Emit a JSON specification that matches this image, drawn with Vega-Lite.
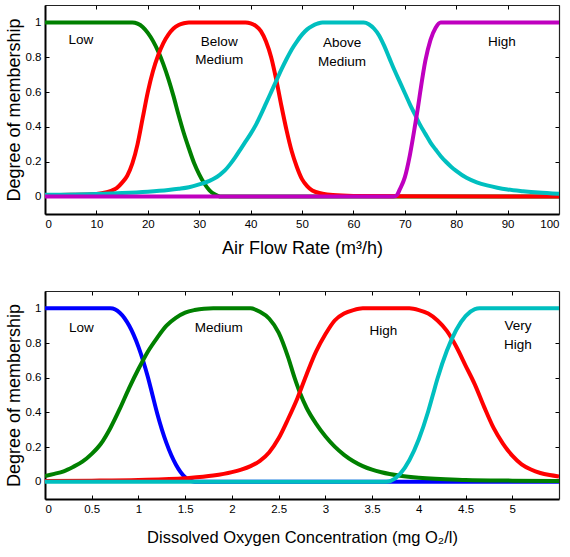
{
  "$schema": "https://vega.github.io/schema/vega-lite/v6.json",
  "padding": {"left": 5, "top": 4, "right": 8, "bottom": 5},
  "background": "white",
  "config": {
    "font": "Liberation Sans",
    "view": {"stroke": null},
    "axis": {
      "grid": false,
      "labelFont": "Liberation Sans",
      "titleFont": "Liberation Sans",
      "labelFontSize": 11.5,
      "labelColor": "#000",
      "titleColor": "#000",
      "titleFontWeight": "normal",
      "tickColor": "#000",
      "domainColor": "#000",
      "tickSize": -4,
      "labelPadding": 8
    }
  },
  "spacing": 77,
  "bounds": "flush",
  "resolve": {"scale": {"color": "independent"}},
  "datasets": {
    "air": [
      {"x": 0, "y": 1, "s": "Low"}, {"x": 17, "y": 1, "s": "Low"}, {"x": 18, "y": 0.993, "s": "Low"}, {"x": 19, "y": 0.974, "s": "Low"}, {"x": 20, "y": 0.94, "s": "Low"}, {"x": 21, "y": 0.894, "s": "Low"}, {"x": 22, "y": 0.835, "s": "Low"}, {"x": 23, "y": 0.762, "s": "Low"}, {"x": 24, "y": 0.676, "s": "Low"}, {"x": 25, "y": 0.577, "s": "Low"}, {"x": 26, "y": 0.467, "s": "Low"}, {"x": 27, "y": 0.365, "s": "Low"}, {"x": 28, "y": 0.276, "s": "Low"}, {"x": 29, "y": 0.193, "s": "Low"}, {"x": 30, "y": 0.128, "s": "Low"}, {"x": 31, "y": 0.075, "s": "Low"}, {"x": 32, "y": 0.036, "s": "Low"}, {"x": 33, "y": 0.013, "s": "Low"}, {"x": 34, "y": 0.001, "s": "Low"}, {"x": 34.4, "y": 0, "s": "Low"}, {"x": 100, "y": 0, "s": "Low"},

      {"x": 0, "y": 0.008, "s": "Below Medium"}, {"x": 5, "y": 0.01, "s": "Below Medium"}, {"x": 10, "y": 0.015, "s": "Below Medium"}, {"x": 12, "y": 0.025, "s": "Below Medium"}, {"x": 13, "y": 0.035, "s": "Below Medium"}, {"x": 14, "y": 0.05, "s": "Below Medium"}, {"x": 15, "y": 0.08, "s": "Below Medium"}, {"x": 16, "y": 0.12, "s": "Below Medium"}, {"x": 17, "y": 0.19, "s": "Below Medium"}, {"x": 18, "y": 0.3, "s": "Below Medium"}, {"x": 19, "y": 0.45, "s": "Below Medium"}, {"x": 20, "y": 0.6, "s": "Below Medium"}, {"x": 21, "y": 0.72, "s": "Below Medium"}, {"x": 22, "y": 0.81, "s": "Below Medium"}, {"x": 23, "y": 0.88, "s": "Below Medium"}, {"x": 24, "y": 0.93, "s": "Below Medium"}, {"x": 25, "y": 0.965, "s": "Below Medium"}, {"x": 26, "y": 0.985, "s": "Below Medium"}, {"x": 27, "y": 0.995, "s": "Below Medium"}, {"x": 28, "y": 1, "s": "Below Medium"}, {"x": 39, "y": 1, "s": "Below Medium"}, {"x": 40, "y": 0.995, "s": "Below Medium"}, {"x": 41, "y": 0.98, "s": "Below Medium"}, {"x": 42, "y": 0.95, "s": "Below Medium"}, {"x": 43, "y": 0.89, "s": "Below Medium"}, {"x": 44, "y": 0.8, "s": "Below Medium"}, {"x": 45, "y": 0.67, "s": "Below Medium"}, {"x": 46, "y": 0.52, "s": "Below Medium"}, {"x": 47, "y": 0.38, "s": "Below Medium"}, {"x": 48, "y": 0.26, "s": "Below Medium"}, {"x": 49, "y": 0.17, "s": "Below Medium"}, {"x": 50, "y": 0.1, "s": "Below Medium"}, {"x": 51, "y": 0.06, "s": "Below Medium"}, {"x": 52, "y": 0.035, "s": "Below Medium"}, {"x": 54, "y": 0.017, "s": "Below Medium"}, {"x": 56, "y": 0.009, "s": "Below Medium"}, {"x": 60, "y": 0.004, "s": "Below Medium"}, {"x": 70, "y": 0.002, "s": "Below Medium"}, {"x": 100, "y": 0, "s": "Below Medium"},

      {"x": 0, "y": 0.01, "s": "Above Medium"}, {"x": 10, "y": 0.015, "s": "Above Medium"}, {"x": 15, "y": 0.02, "s": "Above Medium"}, {"x": 20, "y": 0.028, "s": "Above Medium"}, {"x": 24, "y": 0.038, "s": "Above Medium"}, {"x": 26, "y": 0.045, "s": "Above Medium"}, {"x": 28, "y": 0.054, "s": "Above Medium"}, {"x": 30, "y": 0.07, "s": "Above Medium"}, {"x": 32, "y": 0.09, "s": "Above Medium"}, {"x": 33, "y": 0.105, "s": "Above Medium"}, {"x": 34, "y": 0.125, "s": "Above Medium"}, {"x": 35, "y": 0.15, "s": "Above Medium"}, {"x": 36, "y": 0.185, "s": "Above Medium"}, {"x": 37, "y": 0.225, "s": "Above Medium"}, {"x": 38, "y": 0.27, "s": "Above Medium"}, {"x": 39, "y": 0.315, "s": "Above Medium"}, {"x": 40, "y": 0.36, "s": "Above Medium"}, {"x": 41, "y": 0.41, "s": "Above Medium"}, {"x": 42, "y": 0.47, "s": "Above Medium"}, {"x": 43, "y": 0.535, "s": "Above Medium"}, {"x": 44, "y": 0.6, "s": "Above Medium"}, {"x": 45, "y": 0.665, "s": "Above Medium"}, {"x": 46, "y": 0.73, "s": "Above Medium"}, {"x": 47, "y": 0.79, "s": "Above Medium"}, {"x": 48, "y": 0.845, "s": "Above Medium"}, {"x": 49, "y": 0.89, "s": "Above Medium"}, {"x": 50, "y": 0.93, "s": "Above Medium"}, {"x": 51, "y": 0.96, "s": "Above Medium"}, {"x": 52, "y": 0.98, "s": "Above Medium"}, {"x": 53, "y": 0.993, "s": "Above Medium"}, {"x": 54, "y": 1, "s": "Above Medium"}, {"x": 62, "y": 1, "s": "Above Medium"}, {"x": 63, "y": 0.99, "s": "Above Medium"}, {"x": 64, "y": 0.965, "s": "Above Medium"}, {"x": 65, "y": 0.925, "s": "Above Medium"}, {"x": 66, "y": 0.865, "s": "Above Medium"}, {"x": 67, "y": 0.795, "s": "Above Medium"}, {"x": 68, "y": 0.725, "s": "Above Medium"}, {"x": 69, "y": 0.66, "s": "Above Medium"}, {"x": 70, "y": 0.595, "s": "Above Medium"}, {"x": 71, "y": 0.53, "s": "Above Medium"}, {"x": 72, "y": 0.47, "s": "Above Medium"}, {"x": 73, "y": 0.41, "s": "Above Medium"}, {"x": 74, "y": 0.36, "s": "Above Medium"}, {"x": 75, "y": 0.31, "s": "Above Medium"}, {"x": 76, "y": 0.27, "s": "Above Medium"}, {"x": 77, "y": 0.232, "s": "Above Medium"}, {"x": 78, "y": 0.2, "s": "Above Medium"}, {"x": 79, "y": 0.172, "s": "Above Medium"}, {"x": 80, "y": 0.148, "s": "Above Medium"}, {"x": 82, "y": 0.108, "s": "Above Medium"}, {"x": 84, "y": 0.082, "s": "Above Medium"}, {"x": 86, "y": 0.064, "s": "Above Medium"}, {"x": 88, "y": 0.051, "s": "Above Medium"}, {"x": 90, "y": 0.041, "s": "Above Medium"}, {"x": 93, "y": 0.031, "s": "Above Medium"}, {"x": 96, "y": 0.023, "s": "Above Medium"}, {"x": 100, "y": 0.016, "s": "Above Medium"},

      {"x": 0, "y": 0, "s": "High"}, {"x": 67.8, "y": 0, "s": "High"}, {"x": 68.5, "y": 0.01, "s": "High"}, {"x": 69, "y": 0.04, "s": "High"}, {"x": 70, "y": 0.11, "s": "High"}, {"x": 71, "y": 0.24, "s": "High"}, {"x": 72, "y": 0.41, "s": "High"}, {"x": 72.5, "y": 0.5, "s": "High"}, {"x": 73, "y": 0.6, "s": "High"}, {"x": 74, "y": 0.78, "s": "High"}, {"x": 75, "y": 0.9, "s": "High"}, {"x": 76, "y": 0.97, "s": "High"}, {"x": 77, "y": 1, "s": "High"}, {"x": 100, "y": 1, "s": "High"}
    ],
    "airLabels": [
      {"x": 7, "y": 0.9, "label": "Low"},
      {"x": 33.9, "y": 0.885, "label": "Below"},
      {"x": 33.9, "y": 0.785, "label": "Medium"},
      {"x": 57.8, "y": 0.88, "label": "Above"},
      {"x": 57.8, "y": 0.775, "label": "Medium"},
      {"x": 88.9, "y": 0.885, "label": "High"}
    ],
    "oxy": [
      {"x": 0, "y": 1, "s": "Low"}, {"x": 0.7, "y": 1, "s": "Low"}, {"x": 0.8, "y": 0.975, "s": "Low"}, {"x": 0.9, "y": 0.901, "s": "Low"}, {"x": 1.0, "y": 0.778, "s": "Low"}, {"x": 1.1, "y": 0.605, "s": "Low"}, {"x": 1.15, "y": 0.5, "s": "Low"}, {"x": 1.2, "y": 0.395, "s": "Low"}, {"x": 1.3, "y": 0.222, "s": "Low"}, {"x": 1.4, "y": 0.099, "s": "Low"}, {"x": 1.5, "y": 0.025, "s": "Low"}, {"x": 1.6, "y": 0, "s": "Low"}, {"x": 5.5, "y": 0, "s": "Low"},

      {"x": 0, "y": 0.033, "s": "Medium"}, {"x": 0.1, "y": 0.045, "s": "Medium"}, {"x": 0.2, "y": 0.06, "s": "Medium"}, {"x": 0.3, "y": 0.085, "s": "Medium"}, {"x": 0.4, "y": 0.115, "s": "Medium"}, {"x": 0.5, "y": 0.16, "s": "Medium"}, {"x": 0.6, "y": 0.22, "s": "Medium"}, {"x": 0.7, "y": 0.31, "s": "Medium"}, {"x": 0.8, "y": 0.42, "s": "Medium"}, {"x": 0.9, "y": 0.54, "s": "Medium"}, {"x": 1.0, "y": 0.65, "s": "Medium"}, {"x": 1.1, "y": 0.75, "s": "Medium"}, {"x": 1.2, "y": 0.83, "s": "Medium"}, {"x": 1.3, "y": 0.9, "s": "Medium"}, {"x": 1.4, "y": 0.945, "s": "Medium"}, {"x": 1.5, "y": 0.975, "s": "Medium"}, {"x": 1.6, "y": 0.99, "s": "Medium"}, {"x": 1.7, "y": 0.998, "s": "Medium"}, {"x": 1.8, "y": 1, "s": "Medium"}, {"x": 2.2, "y": 1, "s": "Medium"}, {"x": 2.3, "y": 0.98, "s": "Medium"}, {"x": 2.4, "y": 0.94, "s": "Medium"}, {"x": 2.5, "y": 0.86, "s": "Medium"}, {"x": 2.6, "y": 0.72, "s": "Medium"}, {"x": 2.67, "y": 0.6, "s": "Medium"}, {"x": 2.73, "y": 0.51, "s": "Medium"}, {"x": 2.8, "y": 0.425, "s": "Medium"}, {"x": 2.9, "y": 0.335, "s": "Medium"}, {"x": 3.0, "y": 0.262, "s": "Medium"}, {"x": 3.1, "y": 0.202, "s": "Medium"}, {"x": 3.2, "y": 0.155, "s": "Medium"}, {"x": 3.3, "y": 0.118, "s": "Medium"}, {"x": 3.4, "y": 0.09, "s": "Medium"}, {"x": 3.5, "y": 0.069, "s": "Medium"}, {"x": 3.6, "y": 0.054, "s": "Medium"}, {"x": 3.8, "y": 0.034, "s": "Medium"}, {"x": 4.0, "y": 0.022, "s": "Medium"}, {"x": 4.5, "y": 0.01, "s": "Medium"}, {"x": 5.0, "y": 0.006, "s": "Medium"}, {"x": 5.5, "y": 0.004, "s": "Medium"},

      {"x": 0, "y": 0.004, "s": "High"}, {"x": 0.5, "y": 0.006, "s": "High"}, {"x": 1.0, "y": 0.01, "s": "High"}, {"x": 1.5, "y": 0.02, "s": "High"}, {"x": 1.8, "y": 0.035, "s": "High"}, {"x": 2.0, "y": 0.055, "s": "High"}, {"x": 2.1, "y": 0.07, "s": "High"}, {"x": 2.2, "y": 0.09, "s": "High"}, {"x": 2.3, "y": 0.12, "s": "High"}, {"x": 2.4, "y": 0.17, "s": "High"}, {"x": 2.5, "y": 0.25, "s": "High"}, {"x": 2.6, "y": 0.36, "s": "High"}, {"x": 2.7, "y": 0.48, "s": "High"}, {"x": 2.8, "y": 0.62, "s": "High"}, {"x": 2.9, "y": 0.75, "s": "High"}, {"x": 3.0, "y": 0.85, "s": "High"}, {"x": 3.1, "y": 0.93, "s": "High"}, {"x": 3.2, "y": 0.97, "s": "High"}, {"x": 3.3, "y": 0.99, "s": "High"}, {"x": 3.4, "y": 1, "s": "High"}, {"x": 3.9, "y": 1, "s": "High"}, {"x": 4.0, "y": 0.99, "s": "High"}, {"x": 4.1, "y": 0.97, "s": "High"}, {"x": 4.2, "y": 0.93, "s": "High"}, {"x": 4.3, "y": 0.87, "s": "High"}, {"x": 4.4, "y": 0.78, "s": "High"}, {"x": 4.5, "y": 0.67, "s": "High"}, {"x": 4.6, "y": 0.56, "s": "High"}, {"x": 4.7, "y": 0.43, "s": "High"}, {"x": 4.8, "y": 0.31, "s": "High"}, {"x": 4.9, "y": 0.22, "s": "High"}, {"x": 5.0, "y": 0.15, "s": "High"}, {"x": 5.1, "y": 0.1, "s": "High"}, {"x": 5.2, "y": 0.07, "s": "High"}, {"x": 5.3, "y": 0.05, "s": "High"}, {"x": 5.4, "y": 0.038, "s": "High"}, {"x": 5.5, "y": 0.03, "s": "High"},

      {"x": 0, "y": 0, "s": "Very High"}, {"x": 3.65, "y": 0, "s": "Very High"}, {"x": 3.7, "y": 0.005, "s": "Very High"}, {"x": 3.8, "y": 0.045, "s": "Very High"}, {"x": 3.9, "y": 0.125, "s": "Very High"}, {"x": 4.0, "y": 0.245, "s": "Very High"}, {"x": 4.1, "y": 0.405, "s": "Very High"}, {"x": 4.15, "y": 0.5, "s": "Very High"}, {"x": 4.2, "y": 0.595, "s": "Very High"}, {"x": 4.3, "y": 0.755, "s": "Very High"}, {"x": 4.4, "y": 0.875, "s": "Very High"}, {"x": 4.5, "y": 0.955, "s": "Very High"}, {"x": 4.6, "y": 0.995, "s": "Very High"}, {"x": 4.65, "y": 1, "s": "Very High"}, {"x": 5.5, "y": 1, "s": "Very High"}
    ],
    "oxyLabels": [
      {"x": 0.39, "y": 0.885, "label": "Low"},
      {"x": 1.86, "y": 0.885, "label": "Medium"},
      {"x": 3.62, "y": 0.87, "label": "High"},
      {"x": 5.06, "y": 0.9, "label": "Very"},
      {"x": 5.06, "y": 0.79, "label": "High"}
    ]
  },
  "vconcat": [
    {
      "width": 514,
      "height": 209,
      "layer": [
        {
          "data": {"name": "air"},
          "mark": {"type": "line", "strokeWidth": 4, "interpolate": "monotone", "clip": true},
          "encoding": {
            "x": {"field": "x", "type": "quantitative", "scale": {"domain": [0, 100], "nice": false, "zero": false},
              "axis": {"orient": "bottom", "values": [0, 10, 20, 30, 40, 50, 60, 70, 80, 90, 100], "format": "d", "title": "Air Flow Rate (m³/h)", "titleFontSize": 18, "titlePadding": 10, "domainWidth": 2}},
            "y": {"field": "y", "type": "quantitative", "scale": {"domain": [-0.1, 1.1], "nice": false, "zero": false},
              "axis": {"orient": "left", "values": [0, 0.2, 0.4, 0.6, 0.8, 1], "format": "~g", "title": "Degree of membership", "titleFontSize": 18, "titlePadding": 2, "domainWidth": 2}},
            "color": {"field": "s", "type": "nominal", "legend": null,
              "scale": {"domain": ["Low", "Below Medium", "Above Medium", "High"], "range": ["#008000", "#ff0000", "#00bfbf", "#bf00bf"]}}
          }
        },
        {
          "data": {"name": "airLabels"},
          "mark": {"type": "text", "fontSize": 13.5, "font": "Liberation Sans", "color": "#000"},
          "encoding": {
            "x": {"field": "x", "type": "quantitative", "scale": {"domain": [0, 100], "nice": false, "zero": false},
              "axis": {"orient": "top", "values": [0, 10, 20, 30, 40, 50, 60, 70, 80, 90, 100], "labels": false, "title": null, "domainWidth": 1.2, "domainColor": "#222"}},
            "y": {"field": "y", "type": "quantitative", "scale": {"domain": [-0.1, 1.1], "nice": false, "zero": false},
              "axis": {"orient": "right", "values": [0, 0.2, 0.4, 0.6, 0.8, 1], "labels": false, "title": null, "domainWidth": 1.2, "domainColor": "#222"}},
            "text": {"field": "label"}
          }
        }
      ],
      "resolve": {"axis": {"x": "independent", "y": "independent"}}
    },
    {
      "width": 514,
      "height": 208,
      "layer": [
        {
          "data": {"name": "oxy"},
          "mark": {"type": "line", "strokeWidth": 4, "interpolate": "monotone", "clip": true},
          "encoding": {
            "x": {"field": "x", "type": "quantitative", "scale": {"domain": [0, 5.5], "nice": false, "zero": false},
              "axis": {"orient": "bottom", "values": [0, 0.5, 1, 1.5, 2, 2.5, 3, 3.5, 4, 4.5, 5], "format": "~g", "title": "Dissolved Oxygen Concentration (mg O₂/l)", "titleFontSize": 16.5, "titlePadding": 15, "domainWidth": 2}},
            "y": {"field": "y", "type": "quantitative", "scale": {"domain": [-0.1, 1.1], "nice": false, "zero": false},
              "axis": {"orient": "left", "values": [0, 0.2, 0.4, 0.6, 0.8, 1], "format": "~g", "title": "Degree of membership", "titleFontSize": 18, "titlePadding": 2, "domainWidth": 2}},
            "color": {"field": "s", "type": "nominal", "legend": null,
              "scale": {"domain": ["Low", "Medium", "High", "Very High"], "range": ["#0000ff", "#008000", "#ff0000", "#00bfbf"]}}
          }
        },
        {
          "data": {"name": "oxyLabels"},
          "mark": {"type": "text", "fontSize": 13.5, "font": "Liberation Sans", "color": "#000"},
          "encoding": {
            "x": {"field": "x", "type": "quantitative", "scale": {"domain": [0, 5.5], "nice": false, "zero": false},
              "axis": {"orient": "top", "values": [0, 0.5, 1, 1.5, 2, 2.5, 3, 3.5, 4, 4.5, 5], "labels": false, "title": null, "domainWidth": 1.2, "domainColor": "#222"}},
            "y": {"field": "y", "type": "quantitative", "scale": {"domain": [-0.1, 1.1], "nice": false, "zero": false},
              "axis": {"orient": "right", "values": [0, 0.2, 0.4, 0.6, 0.8, 1], "labels": false, "title": null, "domainWidth": 1.2, "domainColor": "#222"}},
            "text": {"field": "label"}
          }
        }
      ],
      "resolve": {"axis": {"x": "independent", "y": "independent"}}
    }
  ]
}
